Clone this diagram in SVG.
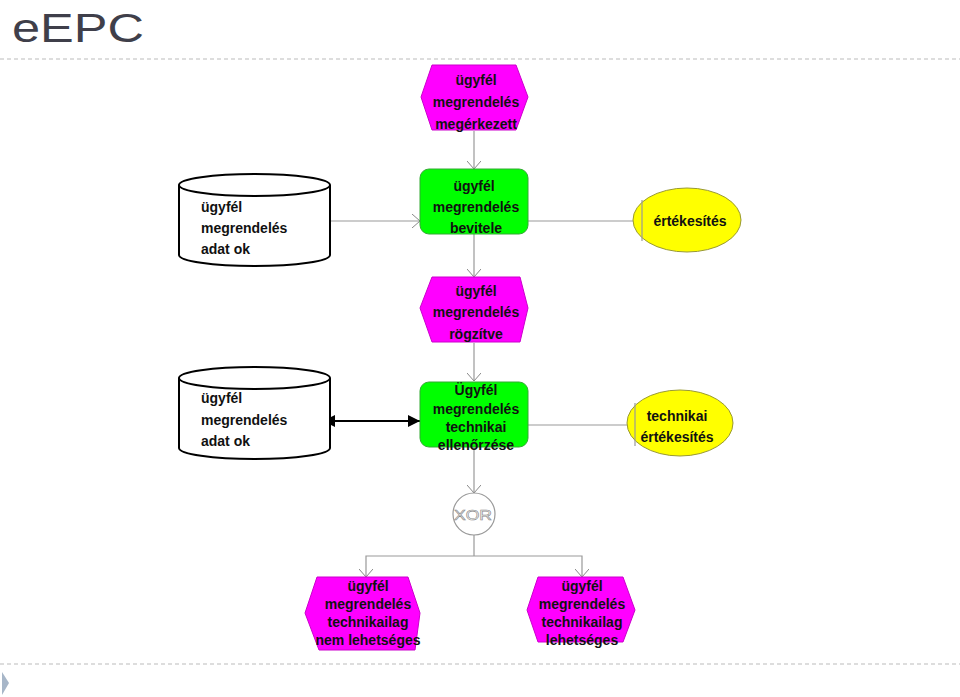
<svg xmlns="http://www.w3.org/2000/svg" width="960" height="697" viewBox="0 0 960 697">
<defs>
<style>
.t{font-family:"Liberation Sans",Arial,sans-serif;font-size:14px;font-weight:bold;fill:#111;text-anchor:middle}
.tl{text-anchor:start}
.ev{fill:#ff00ff;stroke:#cc00cc;stroke-width:1}
.fn{fill:#00ff00;stroke:#33aa33;stroke-width:1}
.el{fill:#ffff00;stroke:#999933;stroke-width:1}
.cy{fill:#fff;stroke:#000;stroke-width:2}
.c{fill:none;stroke:#999;stroke-width:1.2}
.sep{stroke:#bbb;stroke-width:1.2;stroke-dasharray:4 3}
</style>
<marker id="v" viewBox="0 0 8 14" refX="8" refY="7" markerWidth="8" markerHeight="14" markerUnits="userSpaceOnUse" orient="auto-start-reverse">
<path d="M0,0 L8,7 L0,14" fill="none" stroke="#888" stroke-width="1"/>
</marker>
<marker id="fa" viewBox="0 0 12 12" refX="12" refY="6" markerWidth="12" markerHeight="12" markerUnits="userSpaceOnUse" orient="auto-start-reverse">
<path d="M0,0 L12,6 L0,12 z" fill="#000"/>
</marker>
</defs>
<rect width="960" height="697" fill="#fff"/>
<text x="12" y="42" font-family="'Liberation Sans',Arial,sans-serif" font-size="40" fill="#3f3f4a" textLength="132" lengthAdjust="spacingAndGlyphs">eEPC</text>
<line class="sep" x1="0" y1="59" x2="960" y2="59"/>
<line class="sep" x1="0" y1="664" x2="960" y2="664"/>
<polygon points="2,672 9,683 2,695" fill="#a7b6c8"/>

<g id="connectors">
<line class="c" x1="474" y1="131" x2="474" y2="169" marker-end="url(#v)"/>
<line class="c" x1="318" y1="221" x2="420" y2="221" marker-end="url(#v)"/>
<line class="c" x1="528" y1="221" x2="642" y2="221"/>
<line class="c" x1="474" y1="234" x2="474" y2="277" marker-end="url(#v)"/>
<line class="c" x1="474" y1="343" x2="474" y2="381" marker-end="url(#v)"/>
<line x1="323" y1="421" x2="420" y2="421" stroke="#000" stroke-width="2" marker-start="url(#fa)" marker-end="url(#fa)"/>
<line class="c" x1="528" y1="425" x2="635" y2="425"/>
<line class="c" x1="474" y1="447" x2="474" y2="493" marker-end="url(#v)"/>
<polyline class="c" points="474,535 474,556"/>
<polyline class="c" points="366,577 366,556 582,556 582,577" marker-start="url(#v)" marker-end="url(#v)"/>
</g>

<g id="ev1">
<polygon class="ev" points="432,65 516,65 528,97 516,130 432,130 421,97"/>
<text class="t" x="476" y="85">ügyfél</text>
<text class="t" x="476" y="107">megrendelés</text>
<text class="t" x="476" y="129">megérkezett</text>
</g>

<g id="fn1">
<rect class="fn" x="420" y="169" width="108" height="65" rx="9"/>
<text class="t" x="474" y="191">ügyfél</text>
<text class="t" x="476" y="212">megrendelés</text>
<text class="t" x="476" y="233">bevitele</text>
</g>

<g id="db1">
<path class="cy" d="M179,185 L179,255 A75.5,11 0 0 0 330,255 L330,185"/>
<ellipse class="cy" cx="254.5" cy="185" rx="75.5" ry="11"/>
<text class="t tl" x="201" y="212">ügyfél</text>
<text class="t tl" x="201" y="233">megrendelés</text>
<text class="t tl" x="201" y="254">adat ok</text>
</g>

<g id="el1">
<ellipse class="el" cx="687" cy="220" rx="54" ry="32"/>
<line class="c" x1="642" y1="200" x2="642" y2="241"/>
<text class="t" x="690" y="226">értékesítés</text>
</g>

<g id="ev2">
<polygon class="ev" points="432,277 520,277 528,308 520,342 432,342 420,308"/>
<text class="t" x="476" y="296">ügyfél</text>
<text class="t" x="476" y="317">megrendelés</text>
<text class="t" x="476" y="339">rögzítve</text>
</g>

<g id="fn2">
<rect class="fn" x="420" y="382" width="108" height="65" rx="9"/>
<text class="t" x="476" y="395">Ügyfél</text>
<text class="t" x="476" y="414">megrendelés</text>
<text class="t" x="476" y="432">technikai</text>
<text class="t" x="476" y="450">ellenőrzése</text>
</g>

<g id="db2">
<path class="cy" d="M179,378 L179,448 A75.5,11 0 0 0 330,448 L330,378"/>
<ellipse class="cy" cx="254.5" cy="378" rx="75.5" ry="11"/>
<text class="t tl" x="201" y="403">ügyfél</text>
<text class="t tl" x="201" y="425">megrendelés</text>
<text class="t tl" x="201" y="446">adat ok</text>
</g>

<g id="el2">
<ellipse class="el" cx="680" cy="423" rx="53" ry="33"/>
<line class="c" x1="635" y1="403" x2="635" y2="446"/>
<text class="t" x="677" y="421">technikai</text>
<text class="t" x="677" y="442">értékesítés</text>
</g>

<g id="xor">
<circle cx="474" cy="514" r="21" fill="#fff" stroke="#999" stroke-width="1.2"/>
<text x="454" y="520" font-family="'Liberation Sans',Arial,sans-serif" font-size="15" fill="#fff" stroke="#888" stroke-width="0.6" textLength="38" lengthAdjust="spacingAndGlyphs">XOR</text>
</g>

<g id="ev3">
<polygon class="ev" points="317,577 408,577 420,613 415,650 319,650 305,613"/>
<text class="t" x="368" y="591">ügyfél</text>
<text class="t" x="368" y="609">megrendelés</text>
<text class="t" x="368" y="627">technikailag</text>
<text class="t" x="368" y="645">nem lehetséges</text>
</g>

<g id="ev4">
<polygon class="ev" points="538,577 623,577 635,610 623,642 538,642 527,610"/>
<text class="t" x="582" y="591">ügyfél</text>
<text class="t" x="582" y="609">megrendelés</text>
<text class="t" x="582" y="627">technikailag</text>
<text class="t" x="582" y="645">lehetséges</text>
</g>
</svg>
